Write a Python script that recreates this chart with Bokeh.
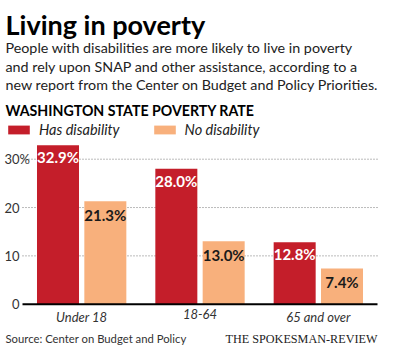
from bokeh.plotting import figure
from bokeh.models import ColumnDataSource, Label, Legend, LegendItem, Range1d
from bokeh.embed import file_html
from bokeh.resources import INLINE
from bokeh.core.properties import value

# ---- data ----
groups = ["Under 18", "18-64", "65 and over"]
has_disability = [32.9, 28.0, 12.8]
no_disability = [21.3, 13.0, 7.4]
y_ticks = [0, 10, 20, 30]
y_tick_labels = ["0", "10", "20", "30"]

title = "Living in poverty"
subtitle = ["People with disabilities are more likely to live in poverty",
            "and rely upon SNAP and other assistance, according to a",
            "new report from the Center on Budget and Policy Priorities."]
chart_title = "WASHINGTON STATE POVERTY RATE"
source_text = "Source: Center on Budget and Policy"
credit = "THE SPOKESMAN-REVIEW"

RED = "#c41e2a"
PEACH = "#f8b07c"
DARK = "#1a1a1a"
FONT = "Lato"

W, H = 384, 348
# plot area inside the canvas (pixels from the figure's left / top)
PL, PR, PB = 22, 377, 303.7
PX_PER_UNIT = 145 / 30.0
n = len(groups)
upx = (PR - PL) / n
x_start = -PL / upx
x_end = n + (W - PR) / upx
y_end = PB / PX_PER_UNIT
y_start = -(H - PB) / PX_PER_UNIT

centers = [i + 0.5 for i in range(n)]
OFF, BW = 0.2, 0.355
src = ColumnDataSource(dict(
    xc=centers,
    xh=[c - OFF for c in centers], xn=[c + OFF for c in centers],
    g=groups, has=has_disability, no=no_disability,
    has_lbl=[f"{v:.1f}%" for v in has_disability],
    no_lbl=[f"{v:.1f}%" for v in no_disability],
))

p = figure(width=W, height=H, x_range=Range1d(x_start, x_end),
           y_range=Range1d(y_start, y_end), output_backend="svg",
           toolbar_location=None, min_border=0)
p.outline_line_color = None
p.background_fill_color = "white"
p.border_fill_color = "white"
p.xaxis.visible = False
p.yaxis.visible = False
p.grid.visible = False

# dotted gridlines across the plot area
gt = y_ticks[1:]
p.segment(x0=[0] * len(gt), x1=[n] * len(gt), y0=gt, y1=gt,
          line_color="#777777", line_dash="1 2", line_width=1)

r1 = p.vbar(x="xh", top="has", width=BW, source=src, fill_color=RED, line_color=None)
r2 = p.vbar(x="xn", top="no", width=BW, source=src, fill_color=PEACH, line_color=None)

# baseline
p.segment(x0=[0], x1=[n], y0=[0], y1=[0], line_color="black", line_width=2)

p.text(x="xh", y="has", text="has_lbl", source=src,
       text_align="center", text_baseline="top", y_offset=3,
       text_color="white", text_font=value(FONT), text_font_style="bold",
       text_font_size="15px")
p.text(x="xn", y="no", text="no_lbl", source=src,
       text_align="center", text_baseline="top", y_offset=5,
       text_color=DARK, text_font=value(FONT), text_font_style="bold",
       text_font_size="15px")

# category labels
p.text(x="xc", y=0, text="g", source=src, text_align="center",
       text_baseline="top", y_offset=5, text_color="#333333",
       text_font=value(FONT), text_font_style="italic", text_font_size="13px")

# y tick labels
for t, lab in zip(y_ticks, y_tick_labels):
    p.add_layout(Label(x=19, y=t, x_units="screen", y_units="data", text=lab,
                       text_align="right", text_baseline="middle",
                       text_font=FONT, text_font_size="13px", text_color="#333333"))
p.add_layout(Label(x=19, y=y_ticks[-1], x_units="screen", y_units="data", text="%",
                   text_align="left", text_baseline="middle",
                   text_font=FONT, text_font_size="13px", text_color="#333333"))

# header / footer texts; positions given in page-image pixels
def hdr(text, img_x, img_base, size, style="normal", font=FONT, color=DARK, align="left"):
    p.add_layout(Label(x=img_x - 8, y=H + 8 - img_base, x_units="screen", y_units="screen",
                       text=text, text_align=align, text_baseline="alphabetic",
                       text_font=font, text_font_size=size, text_font_style=style,
                       text_color=color))

hdr(title, 13, 32, "27px", "bold", color="black")
for i, line in enumerate(subtitle):
    hdr(line, 13, 55 + 18.5 * i, "14.3px", color="#222222")
hdr(chart_title, 13, 118, "14.2px", "bold", color="black")
hdr(source_text, 13, 346, "11.3px", color="#333333")
hdr(credit, 385, 346, "12.2px", font="Liberation Serif", color="#222222", align="right")

legend = Legend(items=[LegendItem(label="Has disability", renderers=[r1]),
                       LegendItem(label="No disability", renderers=[r2])],
                orientation="horizontal", location=(5, H + 8 - 146),
                glyph_width=27, glyph_height=11, label_standoff=7, spacing=31,
                padding=0, margin=0, border_line_color=None,
                background_fill_alpha=0,
                label_text_font=FONT, label_text_font_style="italic",
                label_text_font_size="14.5px", label_text_color="#222222")
p.add_layout(legend, "center")

open("out.html", "w").write(file_html(p, INLINE))
